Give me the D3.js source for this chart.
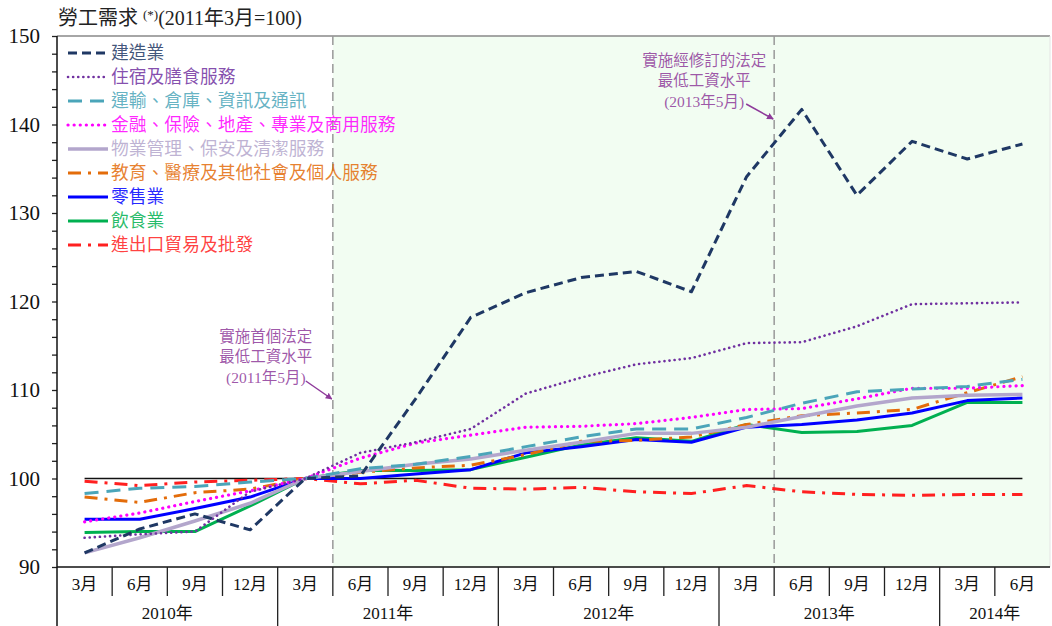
<!DOCTYPE html>
<html>
<head>
<meta charset="utf-8">
<script src="https://cdn.jsdelivr.net/npm/d3@7"></script>
<style>
  body { margin: 0; background: #fff; }
  svg { display: block; }
  text { font-family: "Liberation Serif", "Noto Sans CJK TC", serif; }
</style>
</head>
<body>
<svg id="chart" width="1052" height="626"></svg>
<script>
// quarters along the x axis
var quarters = ["3月","6月","9月","12月","3月","6月","9月","12月","3月","6月","9月","12月","3月","6月","9月","12月","3月","6月"];
var years = ["2010年","2011年","2012年","2013年","2014年"];
var yearBands = [4, 4, 4, 4, 2];   // number of quarters in each year label

// series values (2011年3月=100)
var construction  = [91.6, 94.3, 96.0, 94.2, 100, 100.3, 109.0, 118.2, 121.0, 122.7, 123.4, 121.1, 134.1, 141.7, 132.0, 138.1, 136.1, 137.8];
var accommodation = [93.3, 93.7, 94.0, 98.5, 100, 102.9, 104.1, 105.6, 109.6, 111.4, 112.9, 113.6, 115.3, 115.4, 117.2, 119.7, 119.8, 119.9];
var transport     = [98.3, 98.9, 99.1, 99.6, 100, 101.1, 101.6, 102.5, 103.6, 104.7, 105.6, 105.6, 106.9, 108.5, 109.8, 110.1, 110.4, 111.2];
var finance       = [95.1, 96.1, 97.4, 98.6, 100, 102.3, 104.0, 104.9, 105.8, 105.9, 106.2, 106.9, 107.8, 107.9, 109.0, 110.2, 110.2, 110.5];
var property      = [91.6, 93.3, 95.2, 97.2, 100, 100.8, 101.6, 102.2, 103.2, 104.1, 105.1, 105.1, 105.8, 107.0, 108.2, 109.1, 109.4, 109.5];
var education     = [97.9, 97.3, 98.4, 98.8, 100, 100.7, 101.2, 101.5, 102.7, 104.2, 104.3, 104.7, 106.1, 107.1, 107.4, 107.8, 109.7, 111.5];
var retail        = [95.4, 95.4, 96.6, 97.9, 100, 100.0, 100.5, 101.0, 102.9, 103.6, 104.4, 104.1, 105.8, 106.1, 106.6, 107.4, 108.8, 109.1];
var food          = [93.9, 94.0, 94.0, 96.9, 100, 100.9, 100.9, 101.0, 102.4, 103.8, 104.6, 104.2, 106.1, 105.2, 105.3, 106.0, 108.6, 108.6];
var trade         = [99.7, 99.2, 99.6, 99.8, 100, 99.4, 99.8, 98.9, 98.8, 99.0, 98.5, 98.3, 99.2, 98.5, 98.2, 98.1, 98.2, 98.2];

var series = [
  {name: "建造業", values: construction, color: "#1f3864", width: 3, dash: "9,5", cap: "butt"},
  {name: "住宿及膳食服務", values: accommodation, color: "#7030a0", width: 2.6, dash: "0.1,5", cap: "round"},
  {name: "運輸、倉庫、資訊及通訊", values: transport, color: "#4ba5b9", width: 3, dash: "14,8", cap: "butt"},
  {name: "金融、保險、地產、專業及商用服務", values: finance, color: "#ff00ff", width: 3.2, dash: "0.1,6", cap: "round"},
  {name: "物業管理、保安及清潔服務", values: property, color: "#b3a6cc", width: 3.5, dash: null, cap: "butt"},
  {name: "教育、醫療及其他社會及個人服務", values: education, color: "#e36c0a", width: 3, dash: "13,7,3,7", cap: "butt"},
  {name: "零售業", values: retail, color: "#0000ff", width: 3, dash: null, cap: "butt"},
  {name: "飲食業", values: food, color: "#00b050", width: 3, dash: null, cap: "butt"},
  {name: "進出口貿易及批發", values: trade, color: "#ff2020", width: 3, dash: "13,7,3,7", cap: "butt"}
];

var plotLeft = 57, plotRight = 1050, plotTop = 36, plotBottom = 567;
var svg = d3.select("#chart");

var x = d3.scaleBand().domain(d3.range(quarters.length)).range([plotLeft, plotRight]);
var bw = x.bandwidth();
var cx = function (i) { return x(i) + bw / 2; };
var y = d3.scaleLinear().domain([90, 150]).range([plotBottom, plotTop]);

// shaded period after the first minimum wage
svg.append("rect")
  .attr("x", x(5)).attr("y", plotTop)
  .attr("width", plotRight - x(5)).attr("height", plotBottom - plotTop)
  .attr("fill", "#f2fdf2");

// frame top / right
svg.append("line").attr("x1", plotLeft).attr("x2", plotRight).attr("y1", plotTop).attr("y2", plotTop)
  .attr("stroke", "#888").attr("stroke-width", 1.5);
svg.append("line").attr("x1", plotRight).attr("x2", plotRight).attr("y1", plotTop).attr("y2", plotBottom)
  .attr("stroke", "#e4e4e4").attr("stroke-width", 1);

// minimum wage markers
[5, 13].forEach(function (i) {
  svg.append("line").attr("x1", x(i)).attr("x2", x(i)).attr("y1", plotTop).attr("y2", plotBottom)
    .attr("stroke", "#999").attr("stroke-width", 1.5).attr("stroke-dasharray", "9,5");
});

// 100 base line
svg.append("line")
  .attr("x1", cx(0)).attr("x2", cx(quarters.length - 1))
  .attr("y1", y(100)).attr("y2", y(100))
  .attr("stroke", "#111").attr("stroke-width", 1.5);

// y axis
var yAxis = d3.axisLeft(y)
  .tickValues(d3.range(90, 151, 2))
  .tickSize(5).tickPadding(12)
  .tickFormat(function (d) { return d % 10 === 0 ? d : ""; });
var ga = svg.append("g").attr("transform", "translate(" + plotLeft + ",0)").call(yAxis);
ga.select(".domain").remove();
ga.selectAll(".tick line").attr("stroke", "#222").attr("stroke-width", 1.3);
ga.selectAll(".tick text").attr("font-size", 21).attr("fill", "#111")
  .style("font-family", "Liberation Serif");

// axis lines
svg.append("line").attr("x1", plotLeft).attr("x2", plotLeft).attr("y1", plotTop).attr("y2", 626)
  .attr("stroke", "#111").attr("stroke-width", 1.5);
svg.append("line").attr("x1", plotLeft).attr("x2", plotRight).attr("y1", plotBottom).attr("y2", plotBottom)
  .attr("stroke", "#111").attr("stroke-width", 1.5);

// quarter labels and separators
var gx = svg.append("g");
quarters.forEach(function (q, i) {
  gx.append("text").attr("x", cx(i)).attr("y", 584)
    .attr("text-anchor", "middle").attr("dominant-baseline", "central")
    .attr("font-size", 17).attr("fill", "#111").text(q);
  if (i > 0) {
    gx.append("line").attr("x1", x(i)).attr("x2", x(i))
      .attr("y1", plotBottom).attr("y2", i % 4 === 0 ? 626 : 596)
      .attr("stroke", "#222").attr("stroke-width", 1.3);
  }
});
var start = 0;
years.forEach(function (yr, k) {
  var n = yearBands[k];
  var mid = (x(start) + x(start + n - 1) + bw) / 2;
  gx.append("text").attr("x", mid).attr("y", 613)
    .attr("text-anchor", "middle").attr("dominant-baseline", "central")
    .attr("font-size", 17).attr("fill", "#111").text(yr);
  start += n;
});

// lines
var line = d3.line()
  .x(function (d, i) { return cx(i); })
  .y(function (d) { return y(d); });

series.slice().reverse().forEach(function (s) {
  svg.append("path")
    .attr("d", line(s.values))
    .attr("fill", "none")
    .attr("stroke", s.color)
    .attr("stroke-width", s.width)
    .attr("stroke-linecap", s.cap)
    .attr("stroke-linejoin", "round")
    .attr("stroke-dasharray", s.dash);
});

// legend
var lg = svg.append("g");
series.forEach(function (s, i) {
  var ly = 53 + i * 24;
  lg.append("line").attr("x1", 68).attr("x2", 108).attr("y1", ly).attr("y2", ly)
    .attr("stroke", s.color).attr("stroke-width", s.width)
    .attr("stroke-linecap", s.cap).attr("stroke-dasharray", s.dash);
  lg.append("text").attr("x", 111).attr("y", ly)
    .attr("dominant-baseline", "central")
    .attr("font-size", 17.8).attr("fill", s.color).attr("fill-opacity", 0.85)
    .text(s.name);
});

// title
var title = svg.append("text").attr("x", 58).attr("y", 25).attr("font-size", 20).attr("fill", "#222");
title.append("tspan").text("勞工需求 ");
title.append("tspan").attr("font-size", 13).attr("dy", -6).text("(*)");
title.append("tspan").attr("dy", 6).text("(2011年3月=100)");

// annotations
var purple = "#8e3a9a";
svg.append("defs").append("marker")
  .attr("id", "arrow").attr("viewBox", "0 0 10 10")
  .attr("refX", 9).attr("refY", 5)
  .attr("markerWidth", 4.5).attr("markerHeight", 4.5)
  .attr("orient", "auto")
  .append("path").attr("d", "M0,0L10,5L0,10z").attr("fill", purple);

var notes = [
  {lines: ["實施首個法定", "最低工資水平", "(2011年5月)"], cx: x(5) - 67, y0: 336, from: [x(5) - 27, 381], to: [x(5) - 1, 399]},
  {lines: ["實施經修訂的法定", "最低工資水平", "(2013年5月)"], cx: x(13) - 70, y0: 60, from: [x(13) - 28, 104], to: [x(13) - 1, 119]}
];
notes.forEach(function (n) {
  n.lines.forEach(function (t, i) {
    svg.append("text").attr("x", n.cx).attr("y", n.y0 + i * 20.5)
      .attr("text-anchor", "middle").attr("dominant-baseline", "central")
      .attr("font-size", 15.5).attr("fill", purple).attr("fill-opacity", 0.85).text(t);
  });
  svg.append("line")
    .attr("x1", n.from[0]).attr("y1", n.from[1]).attr("x2", n.to[0]).attr("y2", n.to[1])
    .attr("stroke", purple).attr("stroke-width", 1.5)
    .attr("marker-end", "url(#arrow)");
});
</script>
</body>
</html>
